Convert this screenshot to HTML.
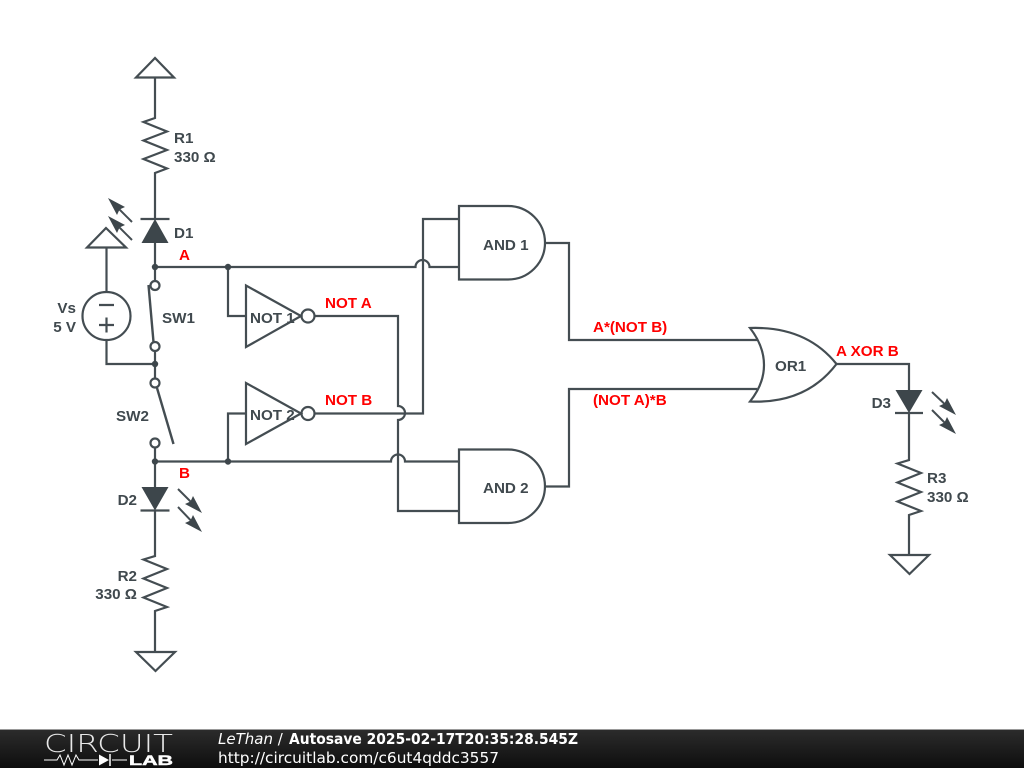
<!DOCTYPE html>
<html><head><meta charset="utf-8"><style>
html,body{margin:0;padding:0;background:#fff;width:1024px;height:768px;overflow:hidden}
svg{display:block}
.w{fill:none;stroke:#444d52;stroke-width:2.200;stroke-linejoin:miter}
.t{font-family:"Liberation Sans",sans-serif;font-weight:bold;font-size:15.200px;fill:#40494e}
.r{font-family:"Liberation Sans",sans-serif;font-weight:bold;font-size:15.200px;fill:#ff0000}
.f{font-family:"DejaVu Sans",sans-serif;font-size:15px;fill:#fff}
</style></head><body>
<svg width="1024" height="768" viewBox="0 0 1024 768" xmlns="http://www.w3.org/2000/svg">
<defs><linearGradient id="g" x1="0" y1="0" x2="0" y2="1"><stop offset="0" stop-color="#2c2c2c"/><stop offset="1" stop-color="#0e0e0e"/></linearGradient></defs>
<rect width="1024" height="768" fill="#fff"/>
<g class="w">
<path d="M155 58L136 77.5H174Z"/>
<path d="M155 77.5V118L143.5 122L167 131.5L143.5 140.5L167 150L143.5 159L167 168.500L155 173V219"/>
<path d="M140.500 219H169.500"/>
<path d="M155 243V281"/>
<path d="M106 228L87 247.500H126Z"/>
<path d="M106.500 247.500V292"/>
<circle cx="106.500" cy="316" r="24"/>
<path d="M99 305H114M99 325H114M106.500 317.500V332.500"/>
<path d="M106.500 340V364H155"/>
<circle cx="155" cy="285.500" r="4.500"/>
<circle cx="155" cy="346.500" r="4.500"/>
<path d="M148.500 285L153.500 342" stroke-width="2.400"/>
<path d="M155 351V378.500"/>
<circle cx="155" cy="383" r="4.500"/>
<path d="M157 388L173.500 444" stroke-width="2.400"/>
<circle cx="155" cy="443" r="4.500"/>
<path d="M155 447.500V487"/>
<path d="M140.500 510.500H169.500"/>
<path d="M155 510.500V556L143.500 559.500L167 569L143.500 578.500L167 588L143.500 597.500L167 607L155 611V652"/>
<path d="M136 652H175L155.500 671Z"/>
<path d="M155 267H415.500A7 7 0 0 1 429.500 267H459"/>
<path d="M228 267V316H246"/>
<path d="M246 285.500V347L301 316Z"/>
<circle cx="308" cy="316" r="6.500"/>
<path d="M314.500 316H398V406A7 7 0 0 1 398 420V511H459"/>
<path d="M155 461.500H391A7 7 0 0 1 405 461.500H459"/>
<path d="M228 461.500V413.500H246"/>
<path d="M246 383V444L301 413.500Z"/>
<circle cx="308" cy="413.500" r="6.500"/>
<path d="M314.500 413.500H423V219H459"/>
<path d="M459 206H508A37 36.750 0 0 1 508 279.500H459Z"/>
<path d="M459 449.500H508A37 36.750 0 0 1 508 523H459Z"/>
<path d="M545 243H569V340H757"/>
<path d="M545 486.500H569V389H757"/>
<path d="M750 328Q764 346 764 365T750 401.500Q806 404 836.500 364Q806 326 750 328Z"/>
<path d="M836.500 364H909V390"/>
<path d="M895 413H923"/>
<path d="M909 413V460L897.500 463.500L921 473L897.500 482.500L921 492L897.500 501.500L921 511L909 515V555"/>
<path d="M890 555H929L909.500 574Z"/>
<path d="M132 240L112 220M132 222L112 202M178 489L198 509M178 507L198 528M932 392L952 411M932 410L952 430" stroke-width="2"/>
</g>
<g fill="#3d464b">
<path d="M155 219L168.500 243H141.500Z"/>
<path d="M155 510.500L168.500 487H141.500Z"/>
<path d="M909 413L922.500 390H895.500Z"/>
<path d="M108 198L125 207L119.500 209.500L117 215Z"/><path d="M108 216L125 225L119.500 227.500L117 233Z"/>
<path d="M202 513L185 504L190.500 501.500L193 496Z"/><path d="M202 532L185 523L190.500 520.500L193 515Z"/>
<path d="M956 415L939 406L944.500 403.500L947 398Z"/><path d="M956 434L939 425L944.500 422.500L947 417Z"/>
<circle cx="155" cy="267" r="3.200"/><circle cx="228" cy="267" r="3.200"/><circle cx="155" cy="364" r="3.200"/><circle cx="155" cy="461.500" r="3.200"/><circle cx="228" cy="461.500" r="3.200"/>
</g>
<g class="t">
<text x="174" y="143">R1</text><text x="174" y="162">330 Ω</text>
<text x="174" y="238">D1</text>
<text x="76" y="313" text-anchor="end">Vs</text><text x="76" y="332" text-anchor="end">5 V</text>
<text x="162" y="323">SW1</text>
<text x="116" y="421">SW2</text>
<text x="137" y="505" text-anchor="end">D2</text>
<text x="137" y="581" text-anchor="end">R2</text><text x="137" y="599" text-anchor="end">330 Ω</text>
<text x="250" y="323">NOT 1</text>
<text x="250" y="420">NOT 2</text>
<text x="483" y="250">AND 1</text>
<text x="483" y="493">AND 2</text>
<text x="775" y="371">OR1</text>
<text x="891" y="408" text-anchor="end">D3</text>
<text x="927" y="483">R3</text><text x="927" y="502">330 Ω</text>
</g>
<g class="r">
<text x="179" y="260">A</text>
<text x="179" y="478">B</text>
<text x="325" y="308">NOT A</text>
<text x="325" y="405">NOT B</text>
<text x="593" y="332">A*(NOT B)</text>
<text x="593" y="405">(NOT A)*B</text>
<text x="836" y="356">A XOR B</text>
</g>
<rect x="0" y="729" width="1024" height="39" fill="url(#g)"/>
<rect x="0" y="729" width="1024" height="1" fill="#999"/>
<text x="44" y="752" font-family="DejaVu Sans,sans-serif" font-weight="200" font-size="25" fill="#e8e8e8" textLength="129" lengthAdjust="spacingAndGlyphs">CIRCUIT</text>
<path d="M44 760H57L60 755L64 765L68 755L72 765L76 755L79 760H98M112 760H127" fill="none" stroke="#fff" stroke-width="1"/>
<path d="M99 754.500L109 760L99 765.500Z" fill="#fff"/><path d="M110 754V766" stroke="#fff" stroke-width="1.500"/>
<text x="129" y="765" font-family="Liberation Sans,sans-serif" font-weight="bold" font-size="14" fill="#fff" stroke="#fff" stroke-width="0.500" textLength="44" lengthAdjust="spacingAndGlyphs">LAB</text>
<text class="f" x="218" y="744"><tspan font-style="italic">LeThan</tspan> /</text>
<text class="f" x="289" y="744" font-weight="bold" font-size="14" textLength="289" lengthAdjust="spacingAndGlyphs">Autosave 2025-02-17T20:35:28.545Z</text>
<text class="f" x="218" y="763" textLength="281" lengthAdjust="spacingAndGlyphs">http://circuitlab.com/c6ut4qddc3557</text>
</svg>
</body></html>
